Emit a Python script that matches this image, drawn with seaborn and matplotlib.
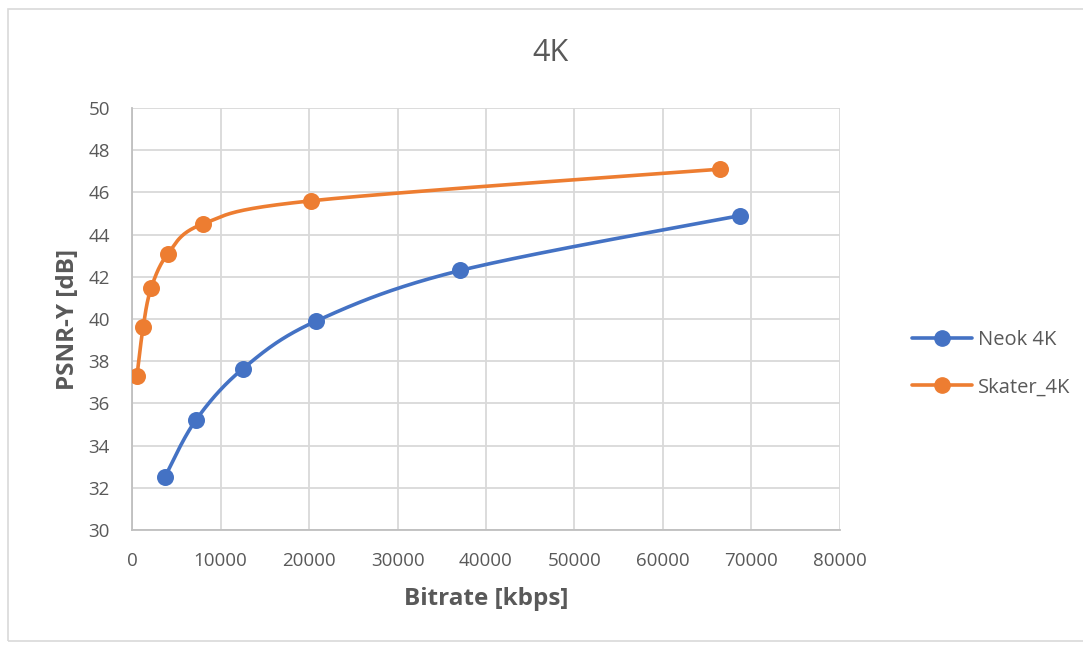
import numpy as np
import pandas as pd
import seaborn as sns
import matplotlib.pyplot as plt
from matplotlib.lines import Line2D
from matplotlib.patches import Rectangle

# values
neok_bitrate = [3700, 7200, 12550, 20800, 37100, 68700]
neok_psnr = [32.5, 35.2, 37.65, 39.9, 42.3, 44.9]
skater_bitrate = [560, 1250, 2150, 4070, 8000, 20200, 66450]
skater_psnr = [37.3, 39.6, 41.45, 43.1, 44.5, 45.6, 47.1]

series_names = ['Neok 4K', 'Skater_4K']
series_colors = ['#4472C4', '#ED7D31']
text_color = '#595959'

sns.set_theme(style='white')
plt.rcParams['font.family'] = ['Open Sans', 'DejaVu Sans']

fig = plt.figure(figsize=(10.83, 6.46), dpi=100)
ax = fig.add_axes([0.1219, 0.1796, 0.6537, 0.6532])

XMAX, YMIN, YMAX = 80000, 30, 50
W_PX, H_PX = 708, 423


def smooth(xs, ys, n=40):
    # Excel-style smoothed line: cubic Bezier through points, tangents from neighbours
    px = np.asarray(xs, float) / XMAX * W_PX
    py = (np.asarray(ys, float) - YMIN) / (YMAX - YMIN) * H_PX
    pts = np.column_stack([px, py])
    ext = np.vstack([pts[0], pts, pts[-1]])
    out = []
    t = np.linspace(0, 1, n)[:, None]
    for i in range(len(pts) - 1):
        p0, p1, p2, p3 = ext[i], ext[i + 1], ext[i + 2], ext[i + 3]
        c1 = p1 + (p2 - p0) / 6
        c2 = p2 - (p3 - p1) / 6
        seg = (1 - t) ** 3 * p1 + 3 * (1 - t) ** 2 * t * c1 + 3 * (1 - t) * t ** 2 * c2 + t ** 3 * p2
        out.append(seg)
    out = np.vstack(out)
    return out[:, 0] / W_PX * XMAX, out[:, 1] / H_PX * (YMAX - YMIN) + YMIN


for name, color, bx, by in [(series_names[0], series_colors[0], neok_bitrate, neok_psnr),
                            (series_names[1], series_colors[1], skater_bitrate, skater_psnr)]:
    cx, cy = smooth(bx, by)
    ax.plot(cx, cy, color=color, linewidth=2.6, solid_capstyle='round', zorder=3)
    pts = pd.DataFrame({'Bitrate': bx, 'PSNR': by})
    sns.scatterplot(data=pts, x='Bitrate', y='PSNR', color=color, s=150,
                    edgecolor=color, linewidth=0, ax=ax, zorder=4)

ax.set_xlim(0, XMAX)
ax.set_ylim(YMIN, YMAX)
ax.set_xticks(np.arange(0, 80001, 10000))
ax.set_yticks(np.arange(30, 51, 2))
ax.grid(True, color='#D9D9D9', linewidth=1.3)
ax.set_axisbelow(True)
for side in ['top', 'right']:
    ax.spines[side].set_visible(False)
for side in ['left', 'bottom']:
    ax.spines[side].set_color('#BFBFBF')
    ax.spines[side].set_linewidth(1.3)
ax.tick_params(axis='both', colors=text_color, labelsize=13.5, length=0)
ax.tick_params(axis='x', pad=16)
ax.tick_params(axis='y', pad=16)

ax.set_xlabel('Bitrate [kbps]', fontsize=17.5, fontweight='bold', color=text_color, labelpad=12)
ax.set_ylabel('PSNR-Y [dB]', fontsize=17.5, fontweight='bold', color=text_color, labelpad=6)
fig.text(0.508, 0.918, '4K', ha='center', va='center', fontsize=22, color=text_color)

handles = [Line2D([0], [0], color=c, linewidth=2.6, marker='o', markersize=11) for c in series_colors]
fig.legend(handles, series_names, loc='center left', bbox_to_anchor=(0.825, 0.437),
           frameon=False, fontsize=14.5, labelcolor=text_color, handlelength=3.0,
           labelspacing=1.35, handletextpad=0.3)

fig.patches.append(Rectangle((0.007, 0.008), 1.2, 0.978, transform=fig.transFigure,
                             fill=False, edgecolor='#D9D9D9', linewidth=1.2))

fig.savefig('out.png', dpi=100)
